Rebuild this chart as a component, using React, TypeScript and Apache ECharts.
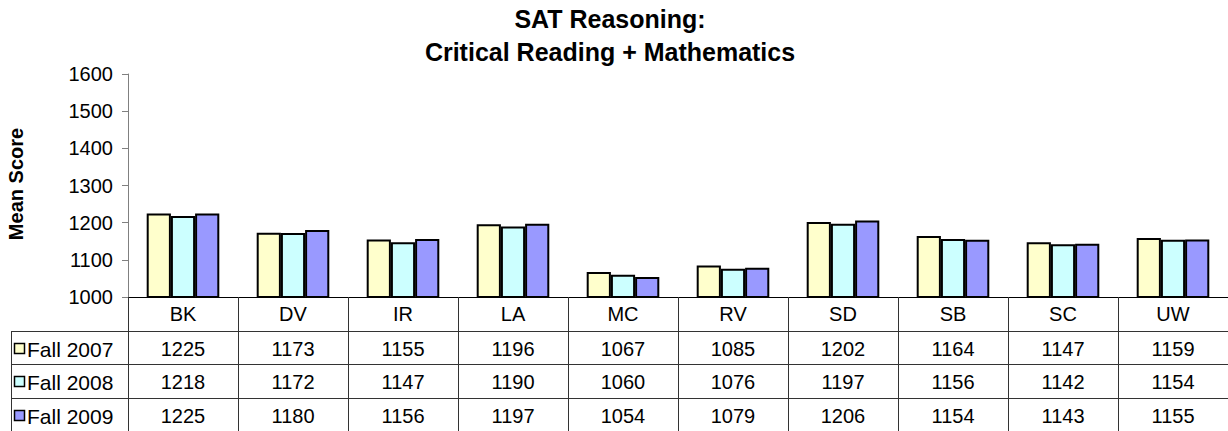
import React, { useEffect, useRef } from "react";
import * as echarts from "echarts";

const categories = ["BK", "DV", "IR", "LA", "MC", "RV", "SD", "SB", "SC", "UW"];
const fall2007 = [1225, 1173, 1155, 1196, 1067, 1085, 1202, 1164, 1147, 1159];
const fall2008 = [1218, 1172, 1147, 1190, 1060, 1076, 1197, 1156, 1142, 1154];
const fall2009 = [1225, 1180, 1156, 1197, 1054, 1079, 1206, 1154, 1143, 1155];
const seriesNames = ["Fall 2007", "Fall 2008", "Fall 2009"];
const seriesColors = ["#FFFFCC", "#CCFFFF", "#9999FF"];
const titleLines = ["SAT Reasoning:", "Critical Reading + Mathematics"];
const yAxisName = "Mean Score";
const yMin = 1000;
const yMax = 1600;
const yStep = 100;

const FONT = '"Liberation Sans", Arial, Helvetica, sans-serif';

export default function App() {
  const ref = useRef<HTMLDivElement>(null);

  useEffect(() => {
    if (!ref.current) return;
    const chart = echarts.init(ref.current, undefined, { renderer: "svg" });

    const rows = [fall2007, fall2008, fall2009];
    const gridLeft = 128;
    const gridTop = 74;
    const axisY = 297;
    const rowTops = [331, 364, 398];
    const rowBottoms = [364, 398, 432];
    const lineColor = "#333";

    const rowAxes = rows.map((vals, i) => ({
      type: "category",
      gridIndex: 0,
      position: "bottom",
      offset: rowTops[i] - axisY,
      data: categories,
      axisLine: { show: true, lineStyle: { color: lineColor, width: 1 } },
      axisTick: {
        show: true,
        interval: 0,
        length: rowBottoms[i] - rowTops[i],
        lineStyle: { color: lineColor, width: 1 },
      },
      axisLabel: {
        show: true,
        interval: 0,
        margin: 18,
        verticalAlign: "middle",
        fontSize: 20,
        fontFamily: FONT,
        color: "#000",
        formatter: (_v: string, idx: number) => String(vals[idx]),
      },
      splitLine: { show: false },
    }));

    const graphics: any[] = [];
    titleLines.forEach((t, i) => {
      graphics.push({
        type: "text",
        x: 610,
        y: 19 + i * 33,
        style: {
          text: t,
          fontSize: 25,
          fontWeight: "bold",
          fontFamily: FONT,
          fill: "#000",
          align: "center",
          verticalAlign: "middle",
        },
      });
    });
    graphics.push({
      type: "text",
      x: 16,
      y: 184,
      rotation: Math.PI / 2,
      style: {
        text: yAxisName,
        fontSize: 20,
        fontWeight: "bold",
        fontFamily: FONT,
        fill: "#000",
        align: "center",
        verticalAlign: "middle",
      },
    });
    // left column of the data table
    graphics.push({
      type: "line",
      shape: { x1: 11.5, y1: rowTops[0], x2: 11.5, y2: 432 },
      style: { stroke: lineColor, lineWidth: 1 },
    });
    rowTops.forEach((y) => {
      graphics.push({
        type: "line",
        shape: { x1: 11, y1: y + 0.5, x2: gridLeft, y2: y + 0.5 },
        style: { stroke: lineColor, lineWidth: 1 },
      });
    });
    seriesNames.forEach((name, i) => {
      const cy = rowTops[i] + 18;
      graphics.push({
        type: "rect",
        shape: { x: 14.5, y: cy - 5.5, width: 10, height: 10 },
        style: { fill: seriesColors[i], stroke: "#000", lineWidth: 1.5 },
      });
      graphics.push({
        type: "text",
        x: 27,
        y: cy,
        style: {
          text: name,
          fontSize: 21,
          fontFamily: FONT,
          fill: "#000",
          align: "left",
          verticalAlign: "middle",
        },
      });
    });

    chart.setOption({
      animation: false,
      backgroundColor: "#fff",
      grid: {
        left: gridLeft,
        top: gridTop,
        width: 1103,
        height: axisY - gridTop,
        containLabel: false,
      },
      xAxis: [
        {
          type: "category",
          gridIndex: 0,
          position: "bottom",
          data: categories,
          axisLine: { show: true, lineStyle: { color: "#000", width: 1 } },
          axisTick: {
            show: true,
            interval: 0,
            length: rowTops[0] - axisY,
            lineStyle: { color: lineColor, width: 1 },
          },
          axisLabel: {
            show: true,
            interval: 0,
            margin: 17,
            verticalAlign: "middle",
            fontSize: 20,
            fontFamily: FONT,
            color: "#000",
          },
          splitLine: { show: false },
        },
        ...rowAxes,
      ],
      yAxis: {
        type: "value",
        min: yMin,
        max: yMax,
        interval: yStep,
        axisLine: { show: true, lineStyle: { color: "#808080", width: 1 } },
        axisTick: { show: true, length: 6, lineStyle: { color: "#808080" } },
        axisLabel: {
          margin: 15,
          fontSize: 20,
          fontFamily: FONT,
          color: "#000",
          formatter: (v: number) => String(v),
        },
        splitLine: { show: false },
      },
      series: rows.map((vals, i) => ({
        type: "bar",
        name: seriesNames[i],
        xAxisIndex: 0,
        yAxisIndex: 0,
        data: vals,
        barGap: "0%",
        barCategoryGap: "34%",
        itemStyle: {
          color: seriesColors[i],
          borderColor: "#000",
          borderWidth: 2,
        },
      })),
      graphic: graphics,
    });

    return () => chart.dispose();
  }, []);

  return (
    <div
      ref={ref}
      style={{ position: "fixed", left: 0, top: 0, width: 1228, height: 431, background: "#fff" }}
    />
  );
}
